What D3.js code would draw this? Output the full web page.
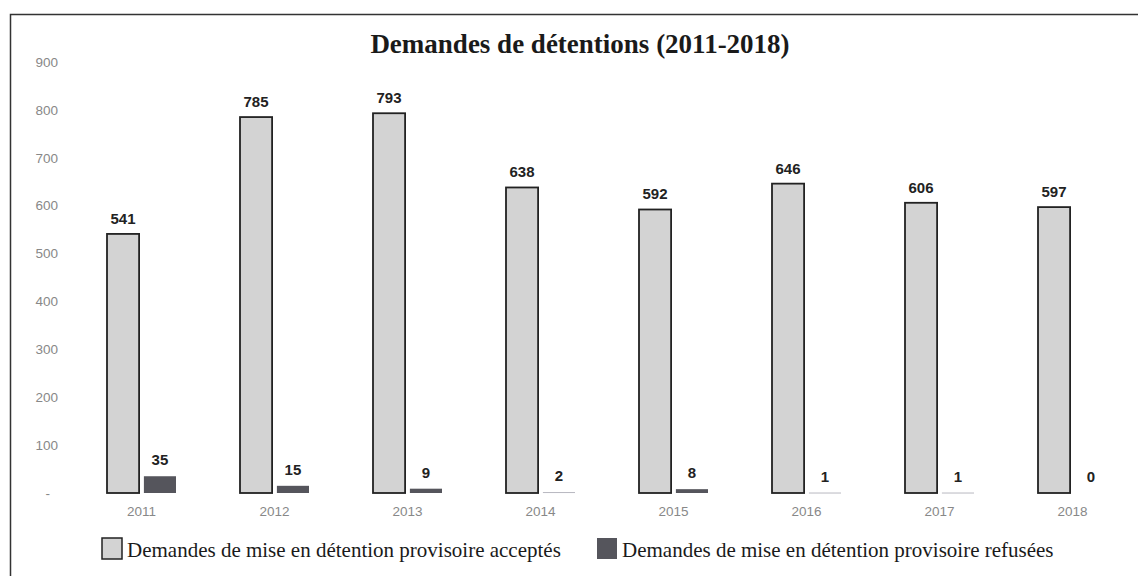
<!DOCTYPE html>
<html><head><meta charset="utf-8">
<script src="https://cdn.jsdelivr.net/npm/d3@7"></script>
<style>body{margin:0;background:#fff}svg{display:block}</style>
</head><body>
<svg id="c" width="1138" height="576"></svg>
<script>
const years = ["2011","2012","2013","2014","2015","2016","2017","2018"];
const accepted = [541,785,793,638,592,646,606,597];
const refused = [35,15,9,2,8,1,1,0];
const yTicks = [0,100,200,300,400,500,600,700,800,900];
const seriesNames = ["Demandes de mise en détention provisoire acceptés","Demandes de mise en détention provisoire refusées"];
const title = "Demandes de détentions (2011-2018)";

const svg = d3.select("#c");
const W = 1138, H = 576;
const plot = {left: 75, right: 1139, top: 62, bottom: 493};

svg.append("rect").attr("x",10.5).attr("y",14.5).attr("width",W+10).attr("height",H+10)
  .attr("fill","#fff").attr("stroke","#333").attr("stroke-width",1.5);

const x = d3.scaleBand().domain(years).range([plot.left, plot.right]).padding(0);
const y = d3.scaleLinear().domain([0,900]).range([plot.bottom, plot.top]);
const x1 = d3.scaleBand().domain(["a","r"]).range([0,69]).paddingInner(0.13);
const groupOff = (x.bandwidth()-69)/2;

svg.append("text").attr("x",580).attr("y",53).attr("text-anchor","middle")
  .attr("font-family","'Liberation Serif','Times New Roman',serif").attr("font-weight","bold")
  .attr("font-size",27).attr("fill","#1a1a1a").text(title);

// y axis
const yAxis = d3.axisLeft(y).tickValues(yTicks).tickSize(0).tickPadding(0)
  .tickFormat(d => d===0 ? "-" : d);
const ya = svg.append("g").attr("transform",`translate(58,0)`).call(yAxis);
ya.select(".domain").remove();
ya.selectAll("text").attr("font-family","'Liberation Sans',Arial,sans-serif").attr("font-size",13.5).attr("fill","#888")
  .attr("dx", d=> d===0 ? -8 : 0);

// x axis
const xAxis = d3.axisBottom(x).tickSize(0).tickPadding(0);
const xa = svg.append("g").attr("transform",`translate(0,${plot.bottom+13})`).call(xAxis);
xa.select(".domain").remove();
xa.selectAll("text").attr("font-family","'Liberation Sans',Arial,sans-serif").attr("font-size",13.5).attr("fill","#888");

const g = svg.append("g");
years.forEach((yr,i)=>{
  const gx = x(yr)+groupOff;
  // accepted
  g.append("rect").attr("x",gx+x1("a")).attr("y",y(accepted[i]))
    .attr("width",x1.bandwidth()).attr("height",y(0)-y(accepted[i]))
    .attr("fill","#d3d3d3").attr("stroke","#222").attr("stroke-width",1.8);
  g.append("text").attr("x",gx+x1("a")+x1.bandwidth()/2).attr("y",y(accepted[i])-10)
    .attr("text-anchor","middle").attr("font-family","'Liberation Sans',Arial,sans-serif")
    .attr("font-weight","bold").attr("font-size",15).attr("fill","#222").text(accepted[i]);
  // refused
  const h = y(0)-y(refused[i]);
  if (refused[i]>0) {
    g.append("rect").attr("x",gx+x1("r")).attr("y",y(refused[i]))
      .attr("width",x1.bandwidth()).attr("height",Math.max(h,1))
      .attr("fill", refused[i]<3 ? "#b8b8c0" : "#55555c");
  }
  g.append("text").attr("x",gx+x1("r")+x1.bandwidth()/2).attr("y",y(refused[i])-11)
    .attr("text-anchor","middle").attr("font-family","'Liberation Sans',Arial,sans-serif")
    .attr("font-weight","bold").attr("font-size",15).attr("fill","#222").text(refused[i]);
});

// legend
const leg = svg.append("g").attr("font-family","'Liberation Serif','Times New Roman',serif").attr("font-size",21).attr("fill","#1a1a1a");
const legItems = [{x:102, fill:"#d3d3d3", stroke:"#222"},{x:597, fill:"#55555c", stroke:"none"}];
legItems.forEach((it,i)=>{
  leg.append("rect").attr("x",it.x).attr("y",538).attr("width",20).attr("height",21)
    .attr("fill",it.fill).attr("stroke",it.stroke).attr("stroke-width",1.5);
  leg.append("text").attr("x",it.x+25).attr("y",557).text(seriesNames[i]);
});
</script>
</body></html>
